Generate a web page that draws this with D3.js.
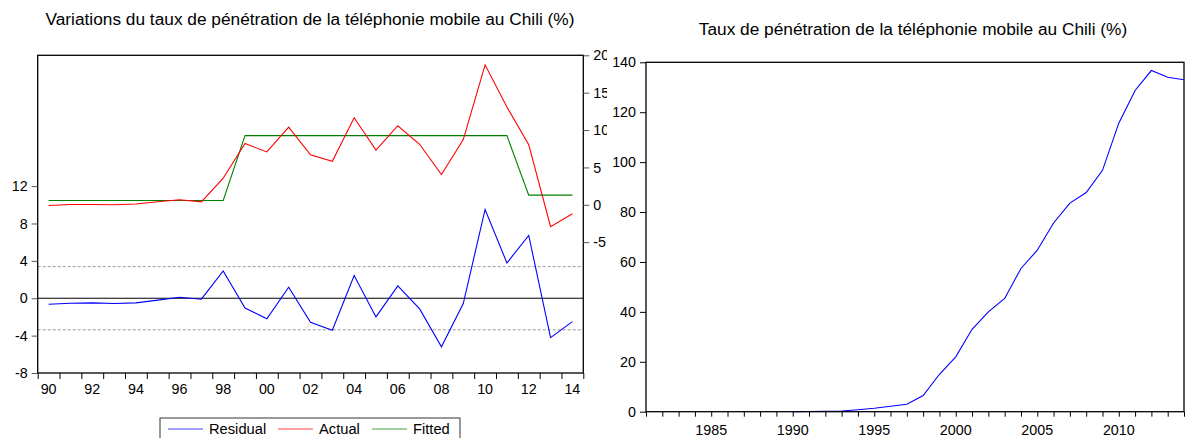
<!DOCTYPE html>
<html>
<head>
<meta charset="utf-8">
<script src="https://cdn.jsdelivr.net/npm/d3@7"></script>
<style>
  body { margin: 0; background: #fff; }
  svg { font-family: "Liberation Sans", Arial, sans-serif; }
</style>
</head>
<body>
<svg width="1185" height="438"></svg>
<script>
// left panel: residual / actual / fitted, 1990-2014
const years = d3.range(1990, 2015);
const residual = [-0.64, -0.54, -0.5, -0.57, -0.5, -0.2, 0.1, -0.1, 2.93, -1.04, -2.2, 1.18, -2.57,
  -3.43, 2.43, -2.0, 1.32, -1.14, -5.2, -0.57, 9.5, 3.78, 6.72, -4.21, -2.5];
const actual = [-0.09, 0.05, 0.05, 0, 0.1, 0.4, 0.67, 0.4, 3.56, 8.2, 7.07, 10.4, 6.7,
  5.83, 11.65, 7.33, 10.58, 8.1, 4.05, 8.72, 18.72, 13.07, 8.05, -2.93, -1.2];
const fitted = [0.58, 0.58, 0.58, 0.58, 0.58, 0.58, 0.58, 0.58, 0.58, 9.25, 9.25, 9.25, 9.25,
  9.25, 9.25, 9.25, 9.25, 9.25, 9.25, 9.25, 9.25, 9.25, 1.29, 1.29, 1.29];
const leftTicks = [-8, -4, 0, 4, 8, 12];
const rightTicks = [-5, 0, 5, 10, 15, 20];
const residBand = 3.38;

// right panel: penetration rate
const penYears = d3.range(1990, 2015);
const penetration = [0.0, 0.1, 0.2, 0.3, 0.8, 1.4, 2.2, 3.0, 6.5, 15, 22, 33, 40, 45.4, 57.4,
  64.7, 75.6, 83.6, 87.8, 96.7, 115.6, 128.7, 136.7, 134, 133];
const penYTicks = [0, 20, 40, 60, 80, 100, 120, 140];
const penXLabels = [1985, 1990, 1995, 2000, 2005, 2010];

const svg = d3.select('svg');
const fs = '14.3px';       // tick labels
const titleFs = '17.3px';
const legFs = '14.7px';

// ---------- LEFT ----------
const L = { left: 37.7, right: 583.3, top: 55.3, bottom: 373 };

const x = d3.scaleLinear().domain([1989.5, 2014.5]).range([L.left, L.right]);
const yL = d3.scaleLinear().domain([-8, 26]).range([L.bottom, L.top]);
const yR = d3.scaleLinear().domain([-22.5, 20]).range([L.bottom, L.top]);

const left = svg.append('g');

left.append('text')
  .attr('x', 310).attr('y', 25)
  .attr('text-anchor', 'middle')
  .style('font-size', titleFs)
  .text('Variations du taux de pénétration de la téléphonie mobile au Chili (%)');

// reference lines
left.selectAll('.band').data([residBand, -residBand]).enter()
  .append('line')
  .attr('x1', L.left).attr('x2', L.right)
  .attr('y1', d => yL(d)).attr('y2', d => yL(d))
  .attr('stroke', '#999').attr('stroke-dasharray', '3,2');

left.append('line')
  .attr('x1', L.left).attr('x2', L.right)
  .attr('y1', yL(0)).attr('y2', yL(0))
  .attr('stroke', '#000');

const line = (scale, vals) => d3.line()
  .x((d, i) => x(years[i]))
  .y(d => scale(d))(vals);

left.append('path').attr('d', line(yR, fitted)).attr('fill', 'none').attr('stroke', '#008000').attr('stroke-width', 1.1);
left.append('path').attr('d', line(yR, actual)).attr('fill', 'none').attr('stroke', '#ff0000').attr('stroke-width', 1.1);
left.append('path').attr('d', line(yL, residual)).attr('fill', 'none').attr('stroke', '#0000ff').attr('stroke-width', 1.1);

// frame
left.append('rect')
  .attr('x', L.left).attr('y', L.top)
  .attr('width', L.right - L.left).attr('height', L.bottom - L.top)
  .attr('fill', 'none').attr('stroke', '#000').attr('stroke-width', 1.3);

// axes
const xAxisL = d3.axisBottom(x)
  .tickValues(d3.range(1989.5, 2015.5, 1))
  .tickSize(6).tickFormat('');
left.append('g').attr('transform', `translate(0,${L.bottom})`).call(xAxisL)
  .call(g => g.select('.domain').remove());

left.selectAll('.xlab').data(years.filter(d => d % 2 === 0)).enter()
  .append('text')
  .attr('x', d => x(d)).attr('y', L.bottom + 21)
  .attr('text-anchor', 'middle')
  .style('font-size', fs)
  .text(d => String(d % 100).padStart(2, '0'));

const yAxisL = d3.axisLeft(yL).tickValues(leftTicks).tickSize(6).tickPadding(4).tickFormat(d => String(d));
left.append('g').attr('transform', `translate(${L.left},0)`).call(yAxisL)
  .call(g => g.select('.domain').remove())
  .call(g => g.selectAll('line').attr('stroke', '#555'))
  .call(g => g.selectAll('text').style('font-size', fs).attr('fill', '#000'));

const yAxisR = d3.axisRight(yR).tickValues(rightTicks).tickSize(6).tickPadding(4).tickFormat(d => String(d));
left.append('g').attr('transform', `translate(${L.right},0)`).call(yAxisR)
  .call(g => g.select('.domain').remove())
  .call(g => g.selectAll('line').attr('stroke', '#555'))
  .call(g => g.selectAll('text').style('font-size', fs).attr('fill', '#000'));

// legend
const legend = left.append('g').attr('transform', 'translate(160,418)');
legend.append('rect').attr('width', 300).attr('height', 25)
  .attr('fill', '#fff').attr('stroke', '#333');
const legItems = [
  { name: 'Residual', color: '#0000ff', lx: 8, tx: 49 },
  { name: 'Actual', color: '#ff0000', lx: 118, tx: 159 },
  { name: 'Fitted', color: '#008000', lx: 212, tx: 253 }
];
legItems.forEach(it => {
  legend.append('line').attr('x1', it.lx).attr('x2', it.lx + 35)
    .attr('y1', 11).attr('y2', 11).attr('stroke', it.color).attr('opacity', 0.75);
  legend.append('text').attr('x', it.tx).attr('y', 16)
    .style('font-size', legFs).text(it.name);
});

// ---------- RIGHT ----------
const R = { left: 646, right: 1184, top: 62.3, bottom: 411.7 };

const right = svg.append('g');
// white panel background clips the overflowing left labels
right.append('rect').attr('x', 607).attr('y', 0).attr('width', 1185 - 607).attr('height', 438).attr('fill', '#fff');

right.append('text')
  .attr('x', 913).attr('y', 35)
  .attr('text-anchor', 'middle')
  .style('font-size', titleFs)
  .text('Taux de pénétration de la téléphonie mobile au Chili (%)');

const x2 = d3.scaleLinear().domain([1981, 2014]).range([R.left, R.right]);
const y2 = d3.scaleLinear().domain([0, 140]).range([R.bottom, R.top]);

right.append('path')
  .attr('d', d3.line().x((d, i) => x2(penYears[i])).y(d => y2(d))(penetration))
  .attr('fill', 'none').attr('stroke', '#0000ff').attr('stroke-width', 1.1);

right.append('rect')
  .attr('x', R.left).attr('y', R.top)
  .attr('width', R.right - R.left).attr('height', R.bottom - R.top)
  .attr('fill', 'none').attr('stroke', '#000').attr('stroke-width', 1.3);

const xAxisR = d3.axisBottom(x2).tickValues(d3.range(1981, 2015)).tickSize(5).tickFormat('');
right.append('g').attr('transform', `translate(0,${R.bottom})`).call(xAxisR)
  .call(g => g.select('.domain').remove());

right.selectAll('.xlab').data(penXLabels).enter()
  .append('text')
  .attr('x', d => x2(d)).attr('y', R.bottom + 23)
  .attr('text-anchor', 'middle')
  .style('font-size', fs)
  .text(d => d);

const yAxis2 = d3.axisLeft(y2).tickValues(penYTicks).tickSize(6).tickPadding(4);
right.append('g').attr('transform', `translate(${R.left},0)`).call(yAxis2)
  .call(g => g.select('.domain').remove())
  .call(g => g.selectAll('text').style('font-size', fs).attr('fill', '#000'));
</script>
</body>
</html>
